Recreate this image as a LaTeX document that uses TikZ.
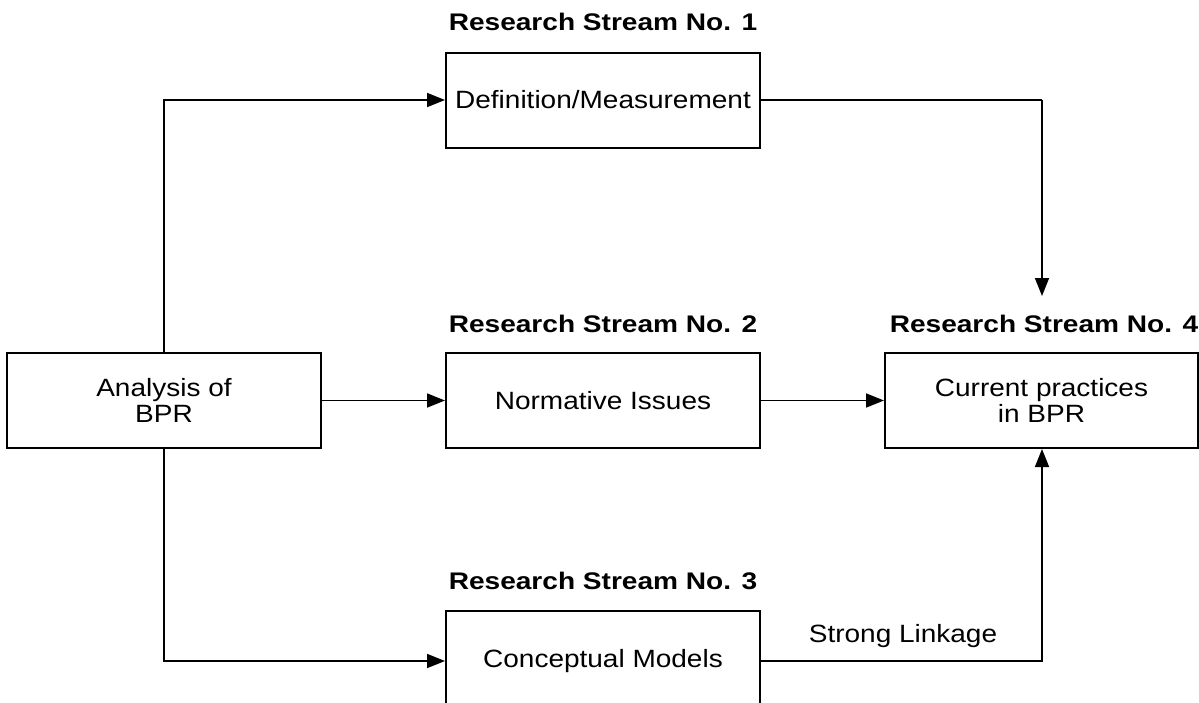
\documentclass[tikz,border=0pt]{standalone}
\usepackage{fontspec}
\setmainfont[FakeStretch=1.12]{Liberation Sans}
\newfontfamily\labf[FakeStretch=1.17]{Liberation Sans}
\usetikzlibrary{arrows.meta}
\begin{document}
\begin{tikzpicture}[x=1pt,y=-1pt,
  box/.style={draw,line width=2pt,minimum height=95pt,inner sep=0pt,
    font=\fontsize{25}{26}\selectfont,align=center},
  title/.style={font=\labf\bfseries\fontsize{24}{26}\selectfont,inner sep=0pt},
  conn/.style={line width=1.7pt},
  arr/.style={conn,-{Triangle[length=18pt,width=14pt]}},
  plain/.style={font=\fontsize{25}{26}\selectfont,inner sep=0pt}]
\useasboundingbox (0,0) rectangle (1199,702);
\clip (0,0) rectangle (1199,702);
\node[box,minimum width=314pt] (ana) at (164,400.5) {Analysis of\\BPR};
\node[box,minimum width=314pt] (def) at (603,100) {Definition/Measurement};
\node[box,minimum width=314pt] (nor) at (603,400.5) {Normative Issues};
\node[box,minimum width=313pt] (cur) at (1041.5,400.5) {Current practices\\in BPR};
\node[box,minimum width=314pt,minimum height=110pt] (con) at (603,666) {};
\node[plain] (contxt) at (603,661) {Conceptual Models};
\node[title] (t1) at (603,22) {Research Stream No. 1};
\node[title] (t2) at (603,324) {Research Stream No. 2};
\node[title] (t3) at (603,581) {Research Stream No. 3};
\node[title] (t4) at (1044,324) {Research Stream No. 4};
\node[plain] (sl) at (903,636) {Strong Linkage};
\coordinate (c1) at (1042,100);
\coordinate (c2) at (1042,296);
\coordinate (c3) at (164,661);
\coordinate (c4) at (1042,661);
\draw[arr] (ana.north) |- (def.west);
\draw[conn] (def.east) -- (c1);
\draw[arr] (c1) -- (c2);
\draw[arr] (ana.east) -- (nor.west);
\draw[arr] (nor.east) -- (cur.west);
\draw[arr] (ana.south) |- (con.west |- c3);
\draw[arr] (con.east |- c4) -| (cur.south -| c4);
\end{tikzpicture}
\end{document}
